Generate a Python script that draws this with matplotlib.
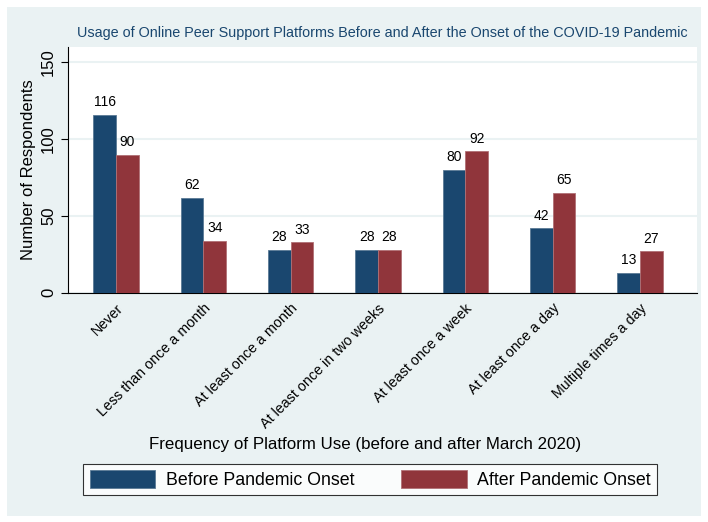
import numpy as np
import matplotlib
matplotlib.use("Agg")
import matplotlib.pyplot as plt
from matplotlib.patches import Rectangle

plt.rcParams["font.family"] = ["Liberation Sans", "DejaVu Sans"]

categories = ["Never", "Less than once a month", "At least once a month",
              "At least once in two weeks", "At least once a week",
              "At least once a day", "Multiple times a day"]
before = [116, 62, 28, 28, 80, 42, 13]
after = [90, 34, 33, 28, 92, 65, 27]

navy = "#1a476f"
maroon = "#90353b"
bg = "#eaf2f3"

fig = plt.figure(figsize=(7.08, 5.22), dpi=100)
fig.patch.set_facecolor("white")
fig.patches.append(Rectangle((0.01, 0.012), 0.98, 0.975, transform=fig.transFigure,
                             facecolor=bg, edgecolor="none", zorder=-10))

ax = fig.add_axes([0.096, 0.439, 0.888, 0.471])
ax.set_facecolor("white")

x = np.arange(len(categories))
w = 0.26
b1 = ax.bar(x - w / 2, before, w, color=navy, edgecolor="#5a7a95", linewidth=0.6,
            label="Before Pandemic Onset", zorder=3)
b2 = ax.bar(x + w / 2, after, w, color=maroon, edgecolor="#b07075", linewidth=0.6,
            label="After Pandemic Onset", zorder=3)
for bars in (b1, b2):
    for r in bars:
        ax.annotate(f"{int(r.get_height())}", (r.get_x() + r.get_width() / 2, r.get_height()),
                    xytext=(0, 4), textcoords="offset points", ha="center", va="bottom",
                    fontsize=10)

ax.set_xlim(-0.55, 6.65)
ax.set_ylim(0, 160)
ax.set_yticks([0, 50, 100, 150])
ax.set_yticklabels(["0", "50", "100", "150"], rotation=90, va="center", fontsize=12)
ax.yaxis.grid(True, color="#eaf2f3", linewidth=1.5, zorder=0)
ax.set_axisbelow(True)
ax.set_xticks(x)
ax.set_xticklabels(categories, rotation=45, ha="right", rotation_mode="anchor", fontsize=10.3)
ax.tick_params(axis="x", length=0, pad=6)
ax.tick_params(axis="y", length=5, width=0.8)
for s in ("top", "right"):
    ax.spines[s].set_visible(False)
ax.spines["left"].set_linewidth(0.8)
ax.spines["bottom"].set_linewidth(0.8)

ax.set_ylabel("Number of Respondents", fontsize=12)
ax.set_title("Usage of Online Peer Support Platforms Before and After the Onset of the COVID-19 Pandemic",
             fontsize=10.4, color=navy, pad=7)
fig.text(0.516, 0.148, "Frequency of Platform Use (before and after March 2020)",
         ha="center", va="center", fontsize=12.2)

leg = fig.legend(handles=[b1, b2], loc="center", bbox_to_anchor=(0.523, 0.081),
                 ncol=2, fontsize=12.8, frameon=True, fancybox=False, edgecolor="black",
                 handlelength=3.7, handleheight=1.2, columnspacing=2.6, borderpad=0.35,
                 handletextpad=0.6)
leg.get_frame().set_linewidth(0.8)

fig.savefig("out.png", dpi=100, facecolor=fig.get_facecolor())
